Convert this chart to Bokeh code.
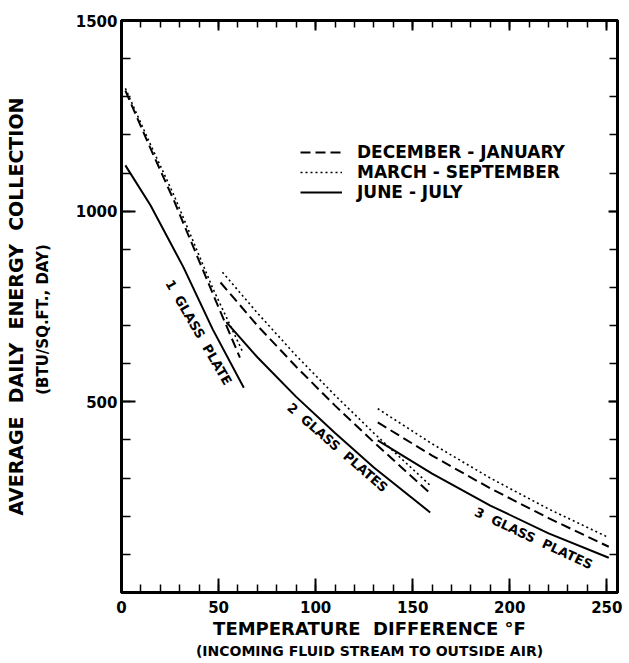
from bokeh.plotting import figure
from bokeh.models import Range1d, FixedTicker, LinearAxis, Legend, LegendItem, Title
from bokeh.core.properties import value
from bokeh.embed import file_html
from bokeh.resources import INLINE

# ---- data ----
# 1 glass plate
x1_dec = [2, 14, 27, 47, 61]
y1_dec = [1316, 1175, 1028, 784, 616]
x1_mar = [2, 14, 27, 47, 62.5]
y1_mar = [1322, 1185, 1042, 798, 630]
x1_jun = [2, 15, 32, 47, 63]
y1_jun = [1120, 1015, 852, 690, 537]

# 2 glass plates
x2_dec = [51, 70, 90, 110, 130, 159]
y2_dec = [813, 700, 592, 490, 394, 260]
x2_mar = [52, 70, 90, 110, 130, 159]
y2_mar = [840, 733, 621, 517, 418, 281]
x2_jun = [54, 70, 90, 110, 130, 159]
y2_jun = [709, 617, 513, 418, 328, 210]

# 3 glass plates
x3 = [132, 160, 190, 220, 251]
y3_dec = [446, 359, 273, 195, 120]
y3_mar = [482, 390, 300, 219, 144]
y3_jun = [399, 312, 228, 155, 91]

seasons = ["DECEMBER - JANUARY", "MARCH - SEPTEMBER", "JUNE - JULY"]

NB = "\u00a0"
plate_labels = ["1" + NB + " GLASS" + NB + " PLATE",
                "2" + NB + " GLASS" + NB + " PLATES",
                "3" + NB + " GLASS" + NB + " PLATES"]
plate_label_x = [39.7, 111.3, 212.3]
plate_label_y = [682, 380, 142]
plate_label_angle = [-60, -41, -25]

x_major = [0, 50, 100, 150, 200, 250]
x_minor = list(range(0, 256, 10))
y_major = [500, 1000, 1500]
y_minor = list(range(0, 1501, 100))

x_title = "TEMPERATURE" + NB + " DIFFERENCE °F"
x_subtitle = "(INCOMING FLUID STREAM TO OUTSIDE AIR)"
y_title = "AVERAGE" + NB + " DAILY" + NB + " ENERGY" + NB + " COLLECTION"
y_subtitle = "(BTU/SQ.FT., DAY)"

FONT = "DejaVu Sans"

p = figure(width=627, height=661, x_range=Range1d(0, 255.5), y_range=Range1d(0, 1500),
           output_backend="svg", toolbar_location=None,
           min_border_left=121, min_border_right=10, min_border_top=20, min_border_bottom=69)
p.background_fill_color = "white"
p.border_fill_color = "white"
p.outline_line_color = "black"
p.outline_line_width = 3
p.xgrid.visible = False
p.ygrid.visible = False

def style_axis(ax, ticker, show_labels, maj_in, min_in):
    ax.ticker = ticker
    ax.axis_line_color = "black"
    ax.axis_line_width = 3
    ax.major_tick_in = maj_in
    ax.major_tick_out = 0
    ax.minor_tick_in = min_in
    ax.minor_tick_out = 0
    ax.major_tick_line_color = "black"
    ax.major_tick_line_width = 2
    ax.minor_tick_line_color = "black"
    ax.minor_tick_line_width = 1.5
    if show_labels:
        ax.major_label_text_font = FONT
        ax.major_label_text_font_size = "15px"
        ax.major_label_text_font_style = "bold"
        ax.major_label_text_color = "black"
    else:
        ax.major_label_text_color = None
        ax.major_label_text_font_size = "1px"
        ax.major_label_standoff = 0

xt = FixedTicker(ticks=x_major, minor_ticks=x_minor)
yt = FixedTicker(ticks=y_major, minor_ticks=y_minor)
style_axis(p.xaxis[0], xt, True, 14, 8)
p.xaxis[0].major_label_standoff = 8
style_axis(p.yaxis[0], yt, True, 14, 9)
yax = p.yaxis[0]
yax.major_label_standoff = 4
# subtitle as the axis label, padded at its end to sit lower like the original
yax.axis_label = y_subtitle + NB * 5
yax.axis_label_standoff = 21
yax.axis_label_text_font = FONT
yax.axis_label_text_font_size = "15px"
yax.axis_label_text_font_style = "bold"
yax.axis_label_text_color = "black"

# outer left axis that only carries the main y title
ytitle_axis = LinearAxis(ticker=FixedTicker(ticks=[]), axis_line_color=None,
                         major_tick_line_color=None, minor_tick_line_color=None,
                         major_label_text_color=None, major_label_text_font_size="1px",
                         major_label_standoff=0, axis_label=y_title,
                         axis_label_standoff=4, axis_label_text_font=FONT,
                         axis_label_text_font_size="19px", axis_label_text_font_style="bold",
                         axis_label_text_color="black")
p.add_layout(ytitle_axis, "left")

top = LinearAxis()
style_axis(top, FixedTicker(ticks=x_major, minor_ticks=x_minor), False, 10, 7)
p.add_layout(top, "above")
right = LinearAxis()
style_axis(right, FixedTicker(ticks=y_major, minor_ticks=y_minor), False, 9, 8)
p.add_layout(right, "right")

dash_style = dict(line_color="black", line_width=2, line_dash="10 5")
dot_style = dict(line_color="black", line_width=1.6, line_dash="2 3")
solid_style = dict(line_color="black", line_width=2)

r_dec = p.line(x1_dec, y1_dec, **dash_style)
r_mar = p.line(x1_mar, y1_mar, **dot_style)
r_jun = p.line(x1_jun, y1_jun, **solid_style)
p.line(x2_dec, y2_dec, **dash_style)
p.line(x2_mar, y2_mar, **dot_style)
p.line(x2_jun, y2_jun, **solid_style)
p.line(x3, y3_dec, **dash_style)
p.line(x3, y3_mar, **dot_style)
p.line(x3, y3_jun, **solid_style)

for t, xx, yy, a in zip(plate_labels, plate_label_x, plate_label_y, plate_label_angle):
    p.text(x=[xx], y=[yy], text=[t], angle=a, angle_units="deg",
           text_font=value(FONT), text_font_size="13px", text_font_style="bold",
           text_align="center", text_baseline="middle", text_color="black")

legend = Legend(items=[LegendItem(label=seasons[0], renderers=[r_dec]),
                       LegendItem(label=seasons[1], renderers=[r_mar]),
                       LegendItem(label=seasons[2], renderers=[r_jun])],
                location=(179, 390), orientation="vertical",
                glyph_width=42, glyph_height=18, label_height=18, spacing=0,
                padding=0, margin=0, label_standoff=15,
                label_text_font=FONT, label_text_font_size="17px",
                label_text_font_style="bold", label_text_color="black",
                background_fill_alpha=0, border_line_alpha=0)
p.add_layout(legend)

def make_title(txt, size, standoff):
    return Title(text=txt, align="center", text_font=FONT, text_font_size=size,
                 text_font_style="bold", text_color="black", standoff=standoff)

# bottom side: closest to frame first
p.add_layout(make_title(x_title, "18px", 1), "below")
p.add_layout(make_title(x_subtitle, "14px", 3), "below")

open("out.html", "w").write(file_html(p, INLINE))
